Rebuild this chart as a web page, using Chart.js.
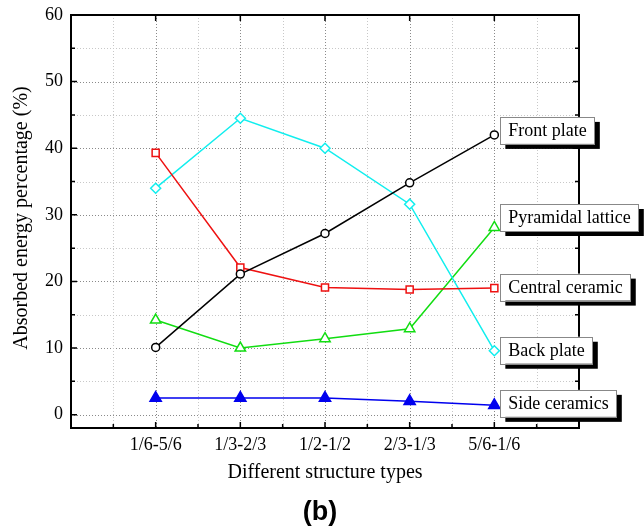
<!DOCTYPE html>
<html>
<head>
<meta charset="utf-8">
<script src="https://cdn.jsdelivr.net/npm/chart.js@4/dist/chart.umd.min.js"></script>
<style>
  html, body { margin: 0; padding: 0; background: #fff; }
  #wrap { width: 644px; height: 527px; position: relative; }
</style>
</head>
<body>
<div id="wrap"><canvas id="c" width="644" height="527"></canvas></div>
<script>
// Structure types (front/back thickness ratio) along the x axis
const categories = ['1/6-5/6', '1/3-2/3', '1/2-1/2', '2/3-1/3', '5/6-1/6'];

// Absorbed energy share of each component, in percent
const frontPlate       = [10.1, 21.1, 27.2, 34.8, 42.0];
const centralCeramic   = [39.3, 22.1, 19.1, 18.8, 19.0];
const backPlate        = [34.0, 44.5, 40.0, 31.6, 9.6];
const pyramidalLattice = [14.2, 10.0, 11.4, 12.9, 28.1];
const sideCeramics     = [2.5, 2.5, 2.5, 2.0, 1.4];

const seriesNames = ['Front plate', 'Central ceramic', 'Back plate', 'Pyramidal lattice', 'Side ceramics'];

// Value-axis tick labels
const yTicks = [0, 10, 20, 30, 40, 50, 60];

const SERIF = '"Liberation Serif", "Times New Roman", serif';

const toPoints = arr => arr.map((v, i) => ({ x: i, y: v }));

// Line/marker look for each series
const seriesStyle = [
  { color: '#000000', pointStyle: 'circle',   radius: 4,   fill: '#ffffff' },
  { color: '#ee1111', pointStyle: 'rect',     radius: 5,   fill: '#ffffff' },
  { color: '#11eeee', pointStyle: 'rectRot',  radius: 5,   fill: '#ffffff' },
  { color: '#11dd11', pointStyle: 'triangle', radius: 6,   fill: '#ffffff' },
  { color: '#0000ee', pointStyle: 'triangle', radius: 6.5, fill: '#0000ee' }
];
const seriesValues = [frontPlate, centralCeramic, backPlate, pyramidalLattice, sideCeramics];

// Vertical nudge (px) of each end tag relative to the series' last point
const tagNudge = [-4.5, -1, -0.5, -10, -2];

const datasets = seriesValues.map((vals, k) => ({
  label: seriesNames[k],
  data: toPoints(vals),
  borderColor: seriesStyle[k].color,
  backgroundColor: seriesStyle[k].fill,
  borderWidth: 1.5,
  pointStyle: seriesStyle[k].pointStyle,
  pointRadius: seriesStyle[k].radius,
  pointBorderWidth: 1.5,
  pointBorderColor: seriesStyle[k].color,
  pointBackgroundColor: seriesStyle[k].fill,
  tension: 0
}));

// Dotted grid, boxed frame with inward ticks, titles and end tags
const decor = {
  id: 'decor',
  beforeDatasetsDraw(chart) {
    const { ctx, chartArea: a, scales: { x, y } } = chart;
    ctx.save();
    ctx.lineWidth = 1;
    ctx.setLineDash([1, 2]);
    // horizontal lines every 5 units
    for (let v = 0; v <= 55; v += 5) {
      const py = Math.round(y.getPixelForValue(v)) + 0.5;
      ctx.strokeStyle = (v % 10 === 0) ? '#8a8a8a' : '#c8c8c8';
      ctx.beginPath(); ctx.moveTo(a.left, py); ctx.lineTo(a.right, py); ctx.stroke();
    }
    // vertical lines every half category
    for (let v = -0.5; v <= 4.5; v += 0.5) {
      const px = Math.round(x.getPixelForValue(v)) + 0.5;
      ctx.strokeStyle = (Number.isInteger(v)) ? '#8a8a8a' : '#c8c8c8';
      ctx.beginPath(); ctx.moveTo(px, a.top); ctx.lineTo(px, a.bottom); ctx.stroke();
    }
    ctx.restore();
  },
  afterDatasetsDraw(chart) {
    const { ctx, chartArea: a, scales: { x, y } } = chart;
    ctx.save();
    ctx.strokeStyle = '#000';
    ctx.lineWidth = 2;
    ctx.setLineDash([]);
    ctx.strokeRect(a.left, a.top, a.right - a.left, a.bottom - a.top);
    ctx.lineWidth = 1.5;
    // ticks on left/right
    for (let v = 0; v <= 55; v += 5) {
      const py = y.getPixelForValue(v);
      const len = (v % 10 === 0) ? 6 : 4;
      ctx.beginPath();
      ctx.moveTo(a.left, py); ctx.lineTo(a.left + len, py);
      ctx.moveTo(a.right, py); ctx.lineTo(a.right - len, py);
      ctx.stroke();
    }
    // ticks on bottom/top
    for (let v = -0.5; v <= 4.5; v += 0.5) {
      const px = x.getPixelForValue(v);
      const major = Number.isInteger(v);
      const len = major ? 6 : 4;
      ctx.beginPath();
      ctx.moveTo(px, a.bottom); ctx.lineTo(px, a.bottom - len);
      if (major) { ctx.moveTo(px, a.top); ctx.lineTo(px, a.top + len); }
      ctx.stroke();
    }

    // axis titles
    ctx.fillStyle = '#000';
    ctx.font = '20px ' + SERIF;
    ctx.textAlign = 'center';
    ctx.textBaseline = 'alphabetic';
    ctx.fillText('Different structure types', (a.left + a.right) / 2, 478);
    ctx.save();
    ctx.translate(27, 218);
    ctx.rotate(-Math.PI / 2);
    ctx.fillText('Absorbed energy percentage (%)', 0, 0);
    ctx.restore();

    // panel letter
    ctx.font = 'bold 27px "Liberation Sans", Arial, sans-serif';
    ctx.textBaseline = 'middle';
    ctx.fillText('(b)', 320, 513);

    // tags at the end of each series
    ctx.font = '18px ' + SERIF;
    ctx.textAlign = 'left';
    chart.data.datasets.forEach((ds, k) => {
      const meta = chart.getDatasetMeta(k);
      const last = meta.data[meta.data.length - 1];
      const text = ds.label;
      const w = ctx.measureText(text).width + 16;
      const h = 27;
      const bx = last.x + 6;
      const by = last.y + tagNudge[k] - h / 2;
      ctx.fillStyle = '#000';
      ctx.fillRect(bx + 5, by + 5, w, h);
      ctx.fillStyle = '#fff';
      ctx.fillRect(bx, by, w, h);
      ctx.strokeStyle = '#888';
      ctx.lineWidth = 1;
      ctx.strokeRect(Math.round(bx) + 0.5, Math.round(by) + 0.5, Math.round(w), h);
      ctx.fillStyle = '#000';
      ctx.textBaseline = 'middle';
      ctx.fillText(text, bx + 8, by + h / 2 + 1);
    });
    ctx.restore();
  }
};

new Chart(document.getElementById('c'), {
  type: 'line',
  data: { datasets },
  options: {
    responsive: false,
    animation: false,
    devicePixelRatio: 1,
    layout: { padding: { top: 15, right: 65, left: 0, bottom: 0 } },
    plugins: { legend: { display: false }, tooltip: { enabled: false } },
    scales: {
      x: {
        type: 'linear',
        min: -1, max: 5,
        afterBuildTicks: s => { s.ticks = categories.map((c, i) => ({ value: i })); },
        afterFit: s => { s.height = 99; s.paddingLeft = 0; s.paddingRight = 0; },
        grid: { display: false, drawTicks: false },
        border: { display: false },
        ticks: {
          autoSkip: false, maxRotation: 0, padding: 6,
          color: '#000', font: { family: SERIF, size: 18 },
          callback: v => categories[v] ?? ''
        }
      },
      y: {
        min: -2, max: 60,
        afterBuildTicks: s => { s.ticks = yTicks.map(v => ({ value: v })); },
        afterFit: s => { s.width = 71; s.paddingTop = 0; s.paddingBottom = 0; },
        grid: { display: false, drawTicks: false },
        border: { display: false },
        ticks: { padding: 8, color: '#000', font: { family: SERIF, size: 18 } }
      }
    }
  },
  plugins: [decor]
});
</script>
</body>
</html>
